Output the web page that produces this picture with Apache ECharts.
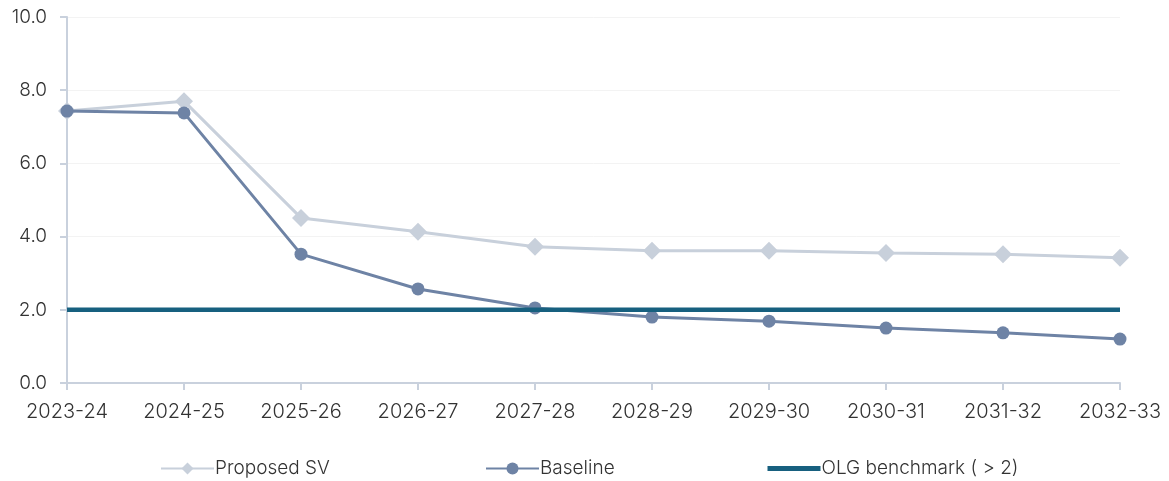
<!DOCTYPE html>
<html>
<head>
<meta charset="utf-8">
<script src="https://cdn.jsdelivr.net/npm/echarts@6/dist/echarts.min.js"></script>
<style>
  html, body { margin: 0; padding: 0; background: #ffffff; }
  #chart { width: 1169px; height: 481px; }
</style>
</head>
<body>
<div id="chart"></div>
<script>
// Financial years
const years = ['2023-24', '2024-25', '2025-26', '2026-27', '2027-28',
               '2028-29', '2029-30', '2030-31', '2031-32', '2032-33'];

// Ratio under the proposed special variation
const proposedSV = [7.43, 7.70, 4.51, 4.13, 3.72, 3.61, 3.61, 3.55, 3.52, 3.42];

// Ratio under the baseline scenario
const baseline = [7.43, 7.38, 3.52, 2.57, 2.05, 1.80, 1.69, 1.50, 1.37, 1.20];

// OLG benchmark level
const benchmarkValue = 2;
const benchmark = years.map(() => benchmarkValue);

const yTicks = { min: 0, max: 10, interval: 2 };

const FONT = 'Inter, "Noto Sans", sans-serif';
const AXIS_COLOR = '#c9d1dd';
const TEXT_COLOR = '#333333';

const chart = echarts.init(document.getElementById('chart'));

const legendBase = {
  top: 454,
  itemWidth: 53,
  itemHeight: 15,
  textStyle: { fontFamily: FONT, fontWeight: 300, fontSize: 19, color: TEXT_COLOR, padding: [0, 0, 0, -4] },
  selectedMode: false
};

chart.setOption({
  animation: false,
  backgroundColor: '#ffffff',
  grid: { left: 67, right: 49, top: 17, bottom: 98, containLabel: false },
  legend: [
    Object.assign({}, legendBase, { left: 155, data: ['Proposed SV'] }),
    Object.assign({}, legendBase, { left: 480, data: ['Baseline'] }),
    Object.assign({}, legendBase, {
      left: 760,
      data: [{
        name: 'OLG benchmark ( > 2)',
        itemStyle: { color: 'rgba(0,0,0,0)', borderWidth: 0 },
        lineStyle: { width: 5 }
      }]
    })
  ],
  xAxis: {
    type: 'category',
    data: years,
    boundaryGap: false,
    axisLine: { lineStyle: { color: AXIS_COLOR, width: 2 } },
    axisTick: { show: true, alignWithLabel: true, length: 7, lineStyle: { color: AXIS_COLOR, width: 2 } },
    axisLabel: { fontFamily: FONT, fontWeight: 300, fontSize: 20, color: TEXT_COLOR, margin: 19 },
    splitLine: { show: false }
  },
  yAxis: {
    type: 'value',
    min: yTicks.min,
    max: yTicks.max,
    interval: yTicks.interval,
    axisLine: { show: true, lineStyle: { color: AXIS_COLOR, width: 2 } },
    axisTick: { show: true, length: 7, lineStyle: { color: AXIS_COLOR, width: 2 } },
    axisLabel: {
      fontFamily: FONT, fontWeight: 300, fontSize: 19, color: TEXT_COLOR, margin: 20,
      formatter: v => v.toFixed(1)
    },
    splitLine: { show: true, lineStyle: { color: '#f3f3f3', width: 1 } }
  },
  series: [
    {
      name: 'Proposed SV',
      type: 'line',
      data: proposedSV,
      symbol: 'diamond',
      symbolSize: 18,
      itemStyle: { color: '#c8d0db' },
      lineStyle: { color: '#c8d0db', width: 3 },
      z: 2
    },
    {
      name: 'Baseline',
      type: 'line',
      data: baseline,
      symbol: 'circle',
      symbolSize: 13,
      itemStyle: { color: '#6e83a5' },
      lineStyle: { color: '#6e83a5', width: 3 },
      z: 3
    },
    {
      name: 'OLG benchmark ( > 2)',
      type: 'line',
      data: benchmark,
      symbol: 'none',
      itemStyle: { color: '#17607f' },
      lineStyle: { color: '#17607f', width: 4.5 },
      z: 4
    }
  ]
});
</script>
</body>
</html>
